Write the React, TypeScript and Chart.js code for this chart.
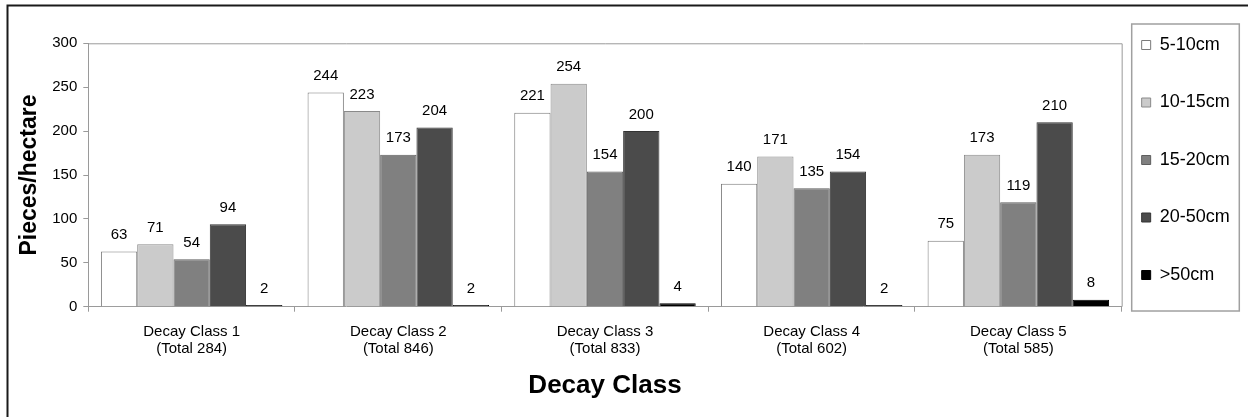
import React, { useEffect, useRef } from 'react';
import { Chart, registerables } from 'chart.js';

Chart.register(...registerables);

// ---- data ----
const categories: string[][] = [
  ['Decay Class 1', '(Total 284)'],
  ['Decay Class 2', '(Total 846)'],
  ['Decay Class 3', '(Total 833)'],
  ['Decay Class 4', '(Total 602)'],
  ['Decay Class 5', '(Total 585)'],
];
const seriesNames = ['5-10cm', '10-15cm', '15-20cm', '20-50cm', '>50cm'];
const size5to10 = [63, 244, 221, 140, 75];
const size10to15 = [71, 223, 254, 171, 173];
const size15to20 = [54, 173, 154, 135, 119];
const size20to50 = [94, 204, 200, 154, 210];
const sizeOver50 = [2, 2, 4, 2, 8];
const yMin = 0;
const yMax = 300;
const yStep = 50;
const yTitle = 'Pieces/hectare';
const xTitle = 'Decay Class';

// ---- styles ----
const fillColors = ['#ffffff', '#cbcbcb', '#808080', '#4b4b4b', '#000000'];
const edgeColors = ['#7a7a7a', '#8a8a8a', '#5e5e5e', '#333333', '#000000'];
const FONT = "'Liberation Sans', Arial, Helvetica, sans-serif";
const AXIS_GRAY = '#9a9a9a';

const valueLabels = {
  id: 'valueLabels',
  afterDatasetsDraw(chart: any) {
    const ctx = chart.ctx;
    ctx.save();
    ctx.font = `15px ${FONT}`;
    ctx.fillStyle = '#000';
    ctx.textAlign = 'center';
    ctx.textBaseline = 'middle';
    chart.data.datasets.forEach((ds: any, i: number) => {
      const meta = chart.getDatasetMeta(i);
      meta.data.forEach((el: any, j: number) => {
        ctx.fillText(String(ds.data[j]), el.x, el.y - 16.5);
      });
    });
    ctx.restore();
  },
};

const frames = {
  id: 'frames',
  afterDraw(chart: any) {
    const ctx = chart.ctx;
    const a = chart.chartArea;
    ctx.save();
    // plot area frame (top & right)
    ctx.strokeStyle = AXIS_GRAY;
    ctx.lineWidth = 1;
    ctx.beginPath();
    ctx.moveTo(a.left, a.top + 0.5);
    ctx.lineTo(a.right + 0.5, a.top + 0.5);
    ctx.lineTo(a.right + 0.5, a.bottom);
    ctx.stroke();
    // legend frame
    ctx.strokeStyle = '#a0a0a0';
    ctx.lineWidth = 1.5;
    ctx.strokeRect(1131.7, 24, 107.6, 287);
    // outer figure frame (left & top)
    ctx.strokeStyle = '#1a1a1a';
    ctx.lineWidth = 2;
    ctx.beginPath();
    ctx.moveTo(7.5, 417);
    ctx.lineTo(7.5, 5.5);
    ctx.lineTo(1248, 5.5);
    ctx.stroke();
    ctx.restore();
  },
};

export default function App() {
  const ref = useRef<HTMLCanvasElement | null>(null);

  useEffect(() => {
    document.body.style.margin = '0';
    const canvas = ref.current;
    if (!canvas) return;
    const seriesValues = [size5to10, size10to15, size15to20, size20to50, sizeOver50];
    const chart = new Chart(canvas, {
      type: 'bar',
      data: {
        labels: categories,
        datasets: seriesNames.map((name, i) => ({
          label: name,
          data: seriesValues[i],
          backgroundColor: fillColors[i],
          borderColor: edgeColors[i],
          borderWidth: 1,
          barPercentage: 1,
          categoryPercentage: 0.878,
        })),
      },
      options: {
        responsive: false,
        animation: false,
        devicePixelRatio: 1,
        layout: { padding: { top: 16, left: 0, right: 8.3, bottom: 0 } },
        plugins: {
          title: {
            display: true,
            text: '',
            font: { size: 1, lineHeight: 1 },
            padding: { top: 26.3, bottom: 0 },
          },
          legend: {
            display: true,
            position: 'right',
            align: 'start',
            labels: {
              color: '#000',
              font: { family: FONT, size: 18, lineHeight: '37.5px' },
              boxWidth: 9,
              boxHeight: 9,
              padding: 20,
              generateLabels: (c: any) =>
                Chart.defaults.plugins.legend.labels
                  .generateLabels(c)
                  .map((l: any) => ({ ...l, text: [l.text] })),
            },
          },
          tooltip: { enabled: false },
        },
        scales: {
          x: {
            grid: {
              display: true,
              offset: true,
              drawOnChartArea: false,
              drawTicks: true,
              tickLength: 5,
              color: AXIS_GRAY,
            },
            border: { display: true, color: AXIS_GRAY, width: 1 },
            ticks: {
              color: '#000',
              font: { family: FONT, size: 15, lineHeight: '17px' },
              padding: 11.6,
              maxRotation: 0,
              autoSkip: false,
            },
            title: {
              display: true,
              text: xTitle,
              color: '#000',
              font: { family: FONT, size: 26, weight: 'bold', lineHeight: 1.2 },
              padding: { top: 0, bottom: 15.4 },
            },
            afterFit: (s: any) => {
              s.height = 110.3;
            },
          },
          y: {
            min: yMin,
            max: yMax,
            grid: {
              display: true,
              drawOnChartArea: false,
              drawTicks: true,
              tickLength: 5,
              color: AXIS_GRAY,
            },
            border: { display: true, color: AXIS_GRAY, width: 1 },
            ticks: {
              stepSize: yStep,
              color: '#000',
              font: { family: FONT, size: 15 },
              padding: 6,
            },
            title: {
              display: true,
              text: yTitle,
              color: '#000',
              font: { family: FONT, size: 23, weight: 'bold', lineHeight: 1.2 },
              padding: { top: 15.7, bottom: 0 },
            },
            afterFit: (s: any) => {
              s.width = 88.3;
            },
          },
        },
      },
      plugins: [valueLabels, frames],
    } as any);
    return () => chart.destroy();
  }, []);

  return (
    <div style={{ width: 1248, height: 417 }}>
      <canvas ref={ref} width={1248} height={417} style={{ display: 'block', width: 1248, height: 417 }} />
    </div>
  );
}
